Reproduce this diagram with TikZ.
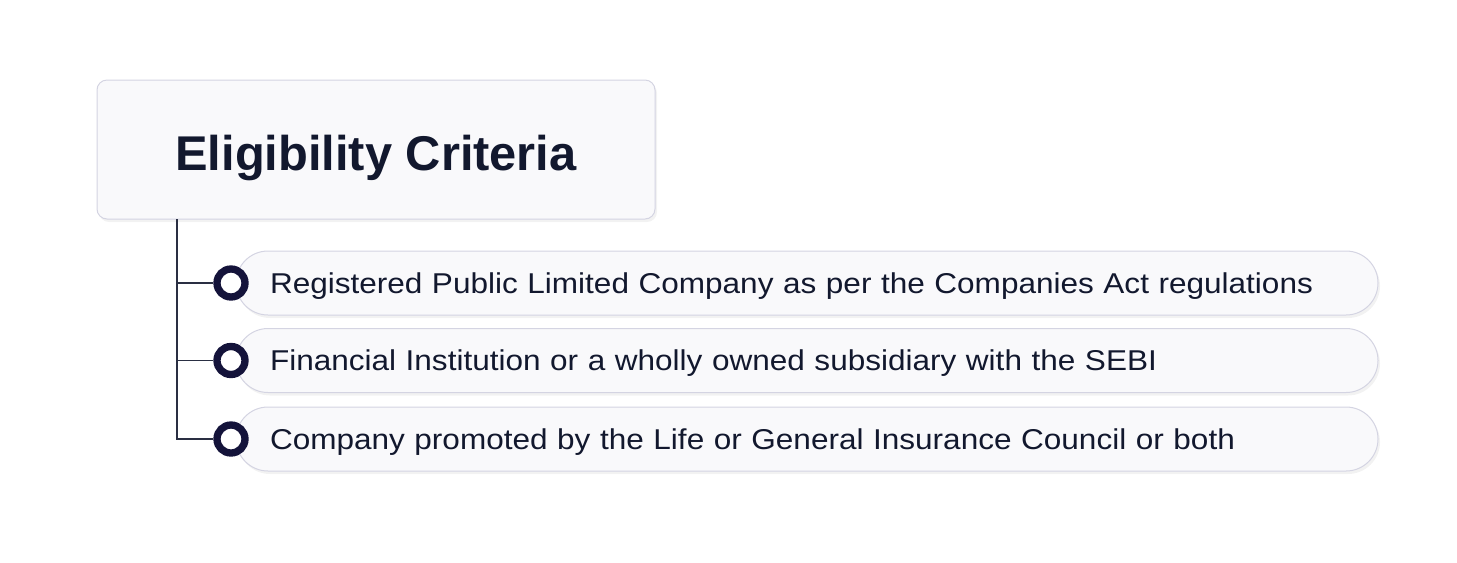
\documentclass[tikz,border=0pt]{standalone}
\usepackage{fontspec}
\setmainfont{Liberation Sans}[FakeStretch=1.1]
\newfontfamily\titlefont{Liberation Sans}
\usetikzlibrary{shadows}
\definecolor{ink}{HTML}{12182E}
\definecolor{ringblue}{HTML}{14133A}
\definecolor{boxfill}{HTML}{F9F9FB}
\definecolor{boxline}{HTML}{D4D4E2}
\tikzset{%
	title box/.style={
		rectangle,
		rounded corners=7.5pt,
		draw=boxline,
		fill=boxfill,
		line width=0.75pt,
		minimum width=418.5pt,
		minimum height=104.25pt,
		drop shadow={shadow xshift=1.5pt, shadow yshift=-2.25pt, opacity=.1},
		font=\titlefont\bfseries\fontsize{36.6pt}{40pt}\selectfont,
		text height=31pt,
		text depth=0pt,
		text=ink
	},
	every item/.style={
		rectangle,
		rounded corners=24pt,
		draw=boxline,
		fill=boxfill,
		line width=0.75pt,
		minimum height=48pt,
		text width=805.5pt,
		inner xsep=25.5pt,
		inner ysep=0pt,
		align=left,
		drop shadow={shadow xshift=1.5pt, shadow yshift=-2.25pt, opacity=.1},
		font=\fontsize{21.5pt}{24pt}\selectfont,
		text height=15.5pt,
		text depth=0pt,
		text=ink
	},
	ring/.style={
		circle,
		draw=ringblue,
		line width=5.5pt,
		fill=white,
		minimum size=21pt,
		inner sep=0pt
	},
	branch/.style={
		draw=ink!90,
		line width=1.1pt
	},
}

\begin{document}
\begin{tikzpicture}[x=0.75pt, y=-0.75pt]
		
		\useasboundingbox (0,0) rectangle (1457,562);
		
		\node [title box] (title) at (376,149.5) {Eligibility Criteria};
		
		\coordinate (trunk) at (177,219);
		
		\foreach \t/\y [count=\i] in {Registered Public Limited Company as per the Companies Act regulations/283,
			Financial Institution or a wholly owned subsidiary with the SEBI/360.5,
			Company promoted by the Life or General Insurance Council or both/439}
		\node [every item/.try] (item-\i) at (807,\y) {\t};
		
		\foreach \y [count=\i] in {283,360.5,439}
		\node [ring] (dot-\i) at (231,\y) {};
		
		\foreach \i in {1,...,3}
		\draw [branch] (trunk) |- (dot-\i.west);
		
\end{tikzpicture}
\end{document}
